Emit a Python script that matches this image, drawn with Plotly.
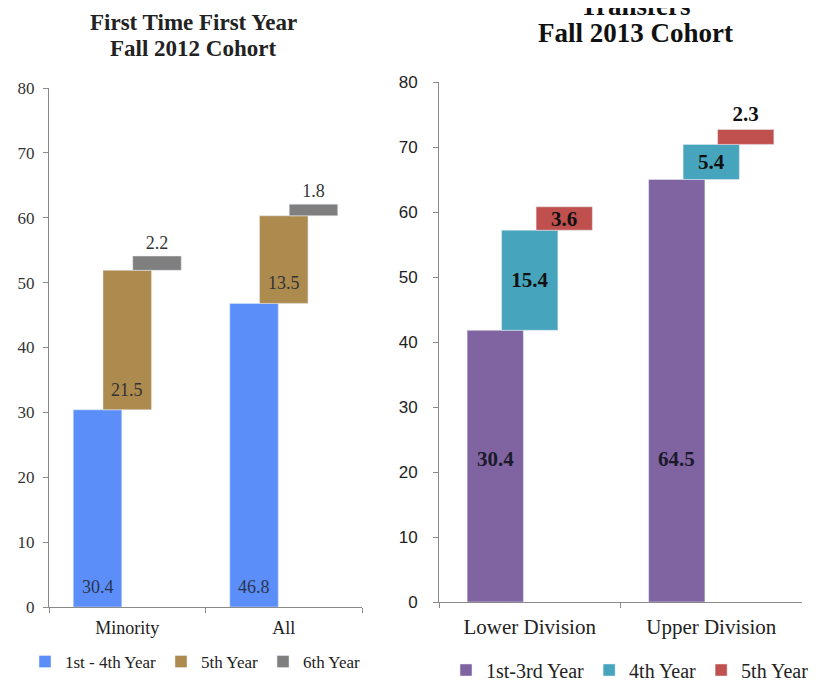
import plotly.graph_objects as go
from plotly.subplots import make_subplots

SERIF = "Times New Roman, Liberation Serif, serif"

# First Time First Year, Fall 2012 cohort
ftfy_groups = ["Minority", "All"]
ftfy_y1_4 = [30.4, 46.8]
ftfy_y5 = [21.5, 13.5]
ftfy_y6 = [2.2, 1.8]

# Transfers, Fall 2013 cohort (bar heights, labels as printed)
tr_groups = ["Lower Division", "Upper Division"]
tr_y1_3 = [41.8, 65.0]
tr_y1_3_labels = ["30.4", "64.5"]
tr_y4 = [15.4, 5.4]
tr_y5 = [3.6, 2.3]

W, H = 825, 682
OFF = 8  # the page body adds an 8px margin, so pixel targets are shifted back by it
BAR_W = 0.31
STEP = 0.19


def px_x(x):
    return (x - OFF) / W


def px_y(y):
    return 1 - (y - OFF) / H


def fmt(vals):
    return [f"{v:.1f}" for v in vals]


def stack(a, b):
    return [x + y for x, y in zip(a, b)]


fig = make_subplots(rows=1, cols=2)

# ---- left chart
fig.add_trace(go.Bar(
    x=ftfy_groups, y=ftfy_y1_4, name="1st - 4th Year",
    width=BAR_W, offset=-STEP - BAR_W / 2,
    marker_color="#5B8EF8", legend="legend",
), row=1, col=1)
fig.add_trace(go.Bar(
    x=ftfy_groups, y=ftfy_y5, base=ftfy_y1_4, name="5th Year",
    width=BAR_W, offset=-BAR_W / 2,
    marker_color="#AD8A4E", legend="legend",
), row=1, col=1)
fig.add_trace(go.Bar(
    x=ftfy_groups, y=ftfy_y6, base=stack(ftfy_y1_4, ftfy_y5), name="6th Year",
    width=BAR_W, offset=STEP - BAR_W / 2,
    marker_color="#7F7F7F",
    text=fmt(ftfy_y6), textposition="outside",
    textfont=dict(family=SERIF, size=18, color="#333333"),
    constraintext="none", cliponaxis=False, legend="legend",
), row=1, col=1)

# ---- right chart
bold = dict(family=SERIF, size=21, color="#111111", weight="bold")
fig.add_trace(go.Bar(
    x=tr_groups, y=tr_y1_3, name="1st-3rd Year",
    width=BAR_W, offset=-STEP - BAR_W / 2,
    marker_color="#8064A2", textposition="none", legend="legend2",
), row=1, col=2)
fig.add_trace(go.Bar(
    x=tr_groups, y=tr_y4, base=tr_y1_3, name="4th Year",
    width=BAR_W, offset=-BAR_W / 2,
    marker_color="#46A5BC",
    text=fmt(tr_y4), textposition="inside", insidetextanchor="middle",
    textfont=bold, constraintext="none", legend="legend2",
), row=1, col=2)
fig.add_trace(go.Bar(
    x=tr_groups, y=tr_y5, base=stack(tr_y1_3, tr_y4), name="5th Year",
    width=BAR_W, offset=STEP - BAR_W / 2,
    marker_color="#C0504D",
    text=fmt(tr_y5), textposition=["inside", "outside"], insidetextanchor="middle",
    textfont=bold, constraintext="none", cliponaxis=False, legend="legend2",
), row=1, col=2)

# plot areas (paper fractions, from pixel boxes in the reference)
left_x = [px_x(49), px_x(362)]
left_y = [px_y(607), px_y(88)]
right_x = [px_x(439), px_x(802)]
right_y = [px_y(602), px_y(82)]

axis_common = dict(showgrid=False, zeroline=False, showline=True,
                   linecolor="#8a8a8a", linewidth=1, ticks="outside",
                   tickcolor="#8a8a8a", ticklen=5)

fig.update_xaxes(axis_common, domain=left_x, range=[-0.5, 1.5], tickson="boundaries",
                 ticklabelstandoff=4,
                 tickfont=dict(family=SERIF, size=18, color="#222222"), row=1, col=1)
fig.update_yaxes(axis_common, domain=left_y, range=[0, 80], dtick=10, ticklabelstandoff=5,
                 tickfont=dict(family=SERIF, size=17, color="#333333"), row=1, col=1)
fig.update_xaxes(axis_common, domain=right_x, range=[-0.5, 1.5], tickson="boundaries",
                 ticklabelstandoff=6,
                 tickfont=dict(family=SERIF, size=21, color="#222222"), row=1, col=2)
fig.update_yaxes(axis_common, domain=right_y, range=[0, 80], dtick=10, ticklabelstandoff=12,
                 tickfont=dict(family="Liberation Sans, Arial, sans-serif", size=17, color="#222222"),
                 row=1, col=2)

# left chart: value labels sit just above the base of each bar
left_cat_px = (left_x[1] - left_x[0]) * W / 2
for vals, bases, shift, col in [
    (ftfy_y1_4, [0, 0], -STEP, "#2b3550"),
    (ftfy_y5, ftfy_y1_4, 0, "#333333"),
]:
    for g, v, b in zip(ftfy_groups, vals, bases):
        fig.add_annotation(x=g, y=b + 3.1, xref="x", yref="y", text=f"{v:.1f}",
                           showarrow=False, xshift=shift * left_cat_px,
                           font=dict(family=SERIF, size=18, color=col))

# right chart: labels on the purple bars sit low in the bar in the original
right_cat_px = (right_x[1] - right_x[0]) * W / 2
for g, lab in zip(tr_groups, tr_y1_3_labels):
    fig.add_annotation(x=g, y=22, xref="x2", yref="y2", text=f"<b>{lab}</b>",
                       showarrow=False, xshift=-STEP * right_cat_px,
                       font=dict(family=SERIF, size=21, color="#1a1a2a"))

# titles (the first line of the right one is cut by the top edge in the original)
for txt, y in [("First Time First Year", 23), ("Fall 2012 Cohort", 49)]:
    fig.add_annotation(x=px_x(193), y=px_y(y), xref="paper", yref="paper",
                       text=f"<b>{txt}</b>", showarrow=False,
                       xanchor="center", yanchor="middle",
                       font=dict(family=SERIF, size=23, color="#222222"))
for txt, y in [("Transfers", 6), ("Fall 2013 Cohort", 33)]:
    fig.add_annotation(x=px_x(635), y=px_y(y), xref="paper", yref="paper",
                       text=f"<b>{txt}</b>", showarrow=False,
                       xanchor="center", yanchor="middle",
                       font=dict(family=SERIF, size=27, color="#111111"))

fig.update_layout(
    width=W, height=H,
    margin=dict(l=0, r=0, t=0, b=0, autoexpand=False),
    barmode="overlay",
    plot_bgcolor="white", paper_bgcolor="white",
    font=dict(family=SERIF, color="#222222"),
    legend=dict(orientation="h", x=px_x(25), y=px_y(662), yanchor="middle",
                font=dict(family=SERIF, size=17, color="#222222"), traceorder="normal"),
    legend2=dict(orientation="h", x=px_x(446), y=px_y(670), yanchor="middle",
                 font=dict(family=SERIF, size=20, color="#222222"), traceorder="normal"),
)

fig.write_html("out.html")
